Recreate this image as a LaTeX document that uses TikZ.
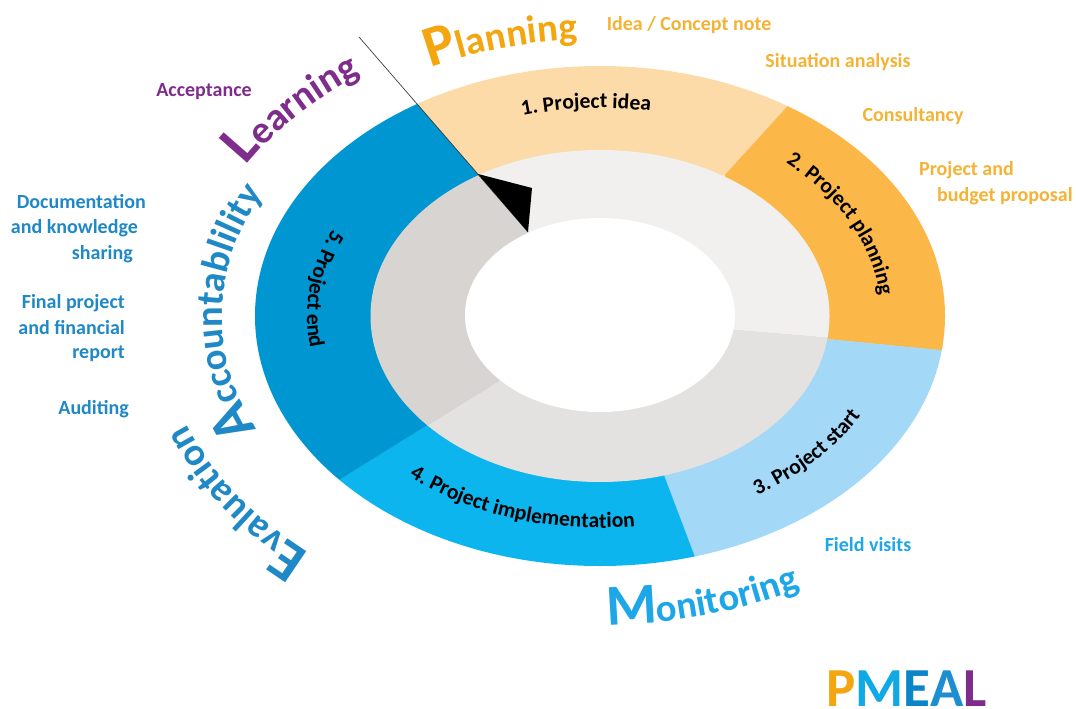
\documentclass[tikz,border=0pt]{standalone}
\usepackage{fontspec}
\setmainfont{Carlito}
\usetikzlibrary{decorations.text}
\definecolor{cidea}{HTML}{FDDBA8}
\definecolor{cplan}{HTML}{FBB848}
\definecolor{cstart}{HTML}{A3D8F7}
\definecolor{cimpl}{HTML}{0DB5EE}
\definecolor{cend}{HTML}{0096D1}
\definecolor{gtop}{HTML}{F1F0EF}
\definecolor{gbot}{HTML}{E4E1E1}
\definecolor{gleft}{HTML}{D7D4D2}
\definecolor{torange}{HTML}{F5B335}
\definecolor{horange}{HTML}{F3A60F}
\definecolor{tpurple}{HTML}{7E2D8C}
\definecolor{tblue}{HTML}{1F88C6}
\definecolor{tsky}{HTML}{1DA6E8}
\newcommand{\ringtext}[5]{%
  \path[decorate,decoration={text along path,text align=center,text={#5}}]
    ({600+#1*cos(#3)},{-316-#2*sin(#3)})
    arc[start angle={-(#3)},end angle={-(#4)},x radius=#1,y radius=#2];}
\newcommand{\ringlabel}{\bfseries\fontsize{21.6}{21.6}\selectfont}
\newcommand{\bigsize}{\bfseries\fontsize{39}{39}\selectfont}
\newcommand{\midsize}{\bfseries\fontsize{38.5}{38.5}\selectfont}
\newcommand{\capsize}{\bfseries\fontsize{58}{58}\selectfont}
\tikzset{
  sector/.style={fill=#1,draw=#1,line width=.2pt},
  itemtext/.style={font=\bfseries\fontsize{20}{20}\selectfont,inner sep=0pt},
}
\begin{document}
\begin{tikzpicture}[x=1pt,y=1pt]
\fill[white] (0,0) rectangle (1076,-709);
\useasboundingbox (0,0) rectangle (1076,-709);
% outer ring
\begin{scope}
\clip (600,-316) ellipse [x radius=345,y radius=250];
\path[sector=cidea] (528,-232) -- (359,-37) -- (850,-38) -- (725,-175) -- cycle;
\path[sector=cplan] (725,-175) -- (850,-38) -- (1050,-38) -- (1050,-361) -- (734,-330) -- cycle;
\path[sector=cstart] (734,-330) -- (1050,-361) -- (1050,-700) -- (730,-650) -- (663,-473) -- cycle;
\path[sector=cimpl] (663,-473) -- (730,-650) -- (200,-650) -- (200,-566) -- (490,-386) -- cycle;
\path[sector=cend] (490,-386) -- (200,-566) -- (200,-37) -- (359,-37) -- (528,-232) -- cycle;
\end{scope}
% middle ring
\begin{scope}
\clip (600,-316) ellipse [x radius=229.5,y radius=166];
\path[sector=gtop] (528,-232) -- (400,-85) -- (1000,-85) -- (1000,-352) -- (734,-330) -- cycle;
\path[sector=gbot] (734,-330) -- (1000,-352) -- (1000,-650) -- (200,-650) -- (200,-566) -- (510,-374) -- cycle;
\path[sector=gleft] (510,-374) -- (200,-566) -- (200,-85) -- (400,-85) -- (528,-232) -- cycle;
\end{scope}
\fill[white] (600,-315) ellipse [x radius=135,y radius=97];
% pointer
\coordinate (ptrstart) at (359,-37);
\coordinate (ptrtip) at (528,-232);
\coordinate (ptrbase) at (478,-174);
\coordinate (ptrwing) at (532,-188);
\draw[black!75,line width=.7pt] (ptrstart) -- (ptrtip);
\fill[black] (ptrbase) -- (ptrwing) -- (ptrtip) -- cycle;
% ring labels
\ringtext{287}{208}{-128}{-58}{|\ringlabel|1. Project idea}
\ringtext{281}{204}{-76}{29}{|\ringlabel|2. Project planning}
\ringtext{295}{212}{83}{-5}{|\ringlabel|3. Project start}
\ringtext{293}{212}{170}{50}{|\ringlabel|4. Project implementation}
\ringtext{293}{212}{223}{151}{|\ringlabel|5. Project end}
% large curved words
\ringtext{382}{277}{-141}{-71}{|\color{horange}\capsize|P|||\color{horange}\bigsize|lanning}
\ringtext{410}{297}{-176.5}{-104.5}{|\color{tpurple}\capsize|L|||\color{tpurple}\bigsize|earning}
\ringtext{378}{270}{141}{221}{|\color{tblue}\capsize|A|||\color{tblue}\midsize|ccountablility}
\ringtext{440}{316}{120}{174}{|\color{tblue}\capsize|E|||\color{tblue}\bigsize|valuation}
\ringtext{424}{309}{100}{50}{|\color{tsky}\capsize|M|||\color{tsky}\midsize|onitoring}
% item lists
\node[itemtext,text=torange] (idea) at (689,-25) {Idea / Concept note};
\node[itemtext,text=torange] (situation) at (838,-62) {Situation analysis};
\node[itemtext,text=torange] (consult) at (913,-116) {Consultancy};
\node[itemtext,text=torange,anchor=west] (proj) at (919,-170) {Project and};
\node[itemtext,text=torange,anchor=west] (budget) at (937,-196) {budget proposal};
\node[itemtext,text=tpurple] (accept) at (204,-92) {Acceptance};
\node[itemtext,text=tblue,anchor=east] (doc) at (146,-202) {Documentation};
\node[itemtext,text=tblue,anchor=east] (know) at (138,-228) {and knowledge};
\node[itemtext,text=tblue,anchor=east] (share) at (133,-254) {sharing};
\node[itemtext,text=tblue,anchor=east] (final) at (125,-303) {Final project};
\node[itemtext,text=tblue,anchor=east] (fin) at (125,-328) {and financial};
\node[itemtext,text=tblue,anchor=east] (report) at (125,-354) {report};
\node[itemtext,text=tblue,anchor=east] (audit) at (129,-409) {Auditing};
\node[itemtext,text=tsky] (field) at (868,-545) {Field visits};
\node[inner sep=0pt,anchor=base west,font=\bfseries\fontsize{55}{55}\selectfont] (pmeal) at (826,-706)
  {\textcolor{horange}{P}\textcolor[HTML]{0FA9E6}{M}\textcolor[HTML]{0A85C8}{E}\textcolor[HTML]{1D8FD0}{A}\textcolor{tpurple}{L}};
\end{tikzpicture}
\end{document}
